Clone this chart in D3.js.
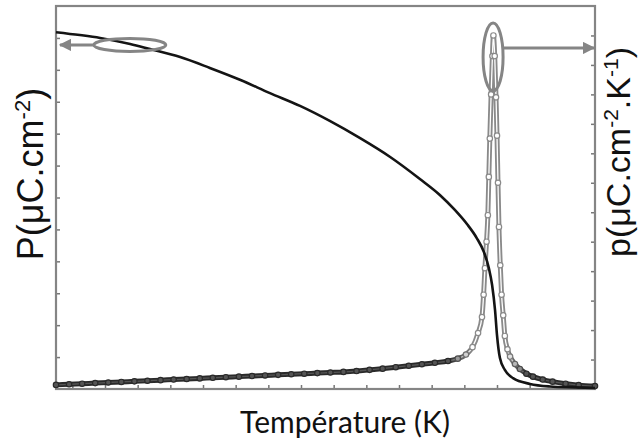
<!DOCTYPE html>
<html>
<head>
<meta charset="utf-8">
<script src="https://cdn.jsdelivr.net/npm/d3@7/dist/d3.min.js"></script>
<style>
  body { margin: 0; background: #fff; }
</style>
</head>
<body>
<svg id="chart" width="643" height="441"></svg>
<script>
/** Data **/
// Polarisation P (left axis), black line
var tempP = [280, 287.3, 293.5, 302.7, 308.8, 318, 327.1, 336.3, 345.5, 354.7, 363.8, 373.1,
             382.3, 391.4, 397.5, 402.1, 405.8, 408.8, 411, 412.5, 413.5, 414.4, 415, 415.9,
             417.4, 419.9, 425.1, 431.2, 438.9, 445];
var polP = [11.18, 11.09, 11.0, 10.81, 10.65, 10.4, 10.06, 9.69, 9.27, 8.87, 8.4, 7.86,
            7.27, 6.58, 6.08, 5.61, 5.17, 4.73, 4.29, 3.79, 3.26, 2.47, 1.69, 0.97,
            0.6, 0.34, 0.16, 0.08, 0.05, 0.03];

// Pyroelectric coefficient p (right axis), grey line with circles
var tempPyro = [280, 284, 288, 292, 296, 300, 304, 308, 312, 316, 320, 324, 328, 332, 336, 340,
                344, 348, 352, 356, 360, 364, 368, 372, 376, 380, 384, 388, 392, 396, 400, 403,
                405.5, 407.5, 409.2, 410.4, 410.9, 411.3, 411.8, 412.2, 412.5, 412.8, 413.2, 413.6,
                413.9, 414.3, 414.7, 415, 415.3, 415.6, 416, 416.4, 416.9, 417.4, 418.2, 419,
                420.5, 422, 424, 426, 429, 432, 436, 440, 445];
var pyroVals = [0.14, 0.16, 0.18, 0.2, 0.22, 0.24, 0.26, 0.28, 0.3, 0.32, 0.34, 0.36, 0.38, 0.4, 0.42, 0.44,
                0.46, 0.48, 0.5, 0.52, 0.54, 0.56, 0.58, 0.61, 0.65, 0.69, 0.74, 0.79, 0.84, 0.89, 0.95, 1.03,
                1.17, 1.42, 1.9, 2.44, 3.2, 4.1, 5.0, 5.9, 7.2, 8.5, 10.0, 11.3,
                12.0, 11.3, 9.9, 8.6, 7.0, 5.5, 4.2, 3.2, 2.5, 1.8, 1.35, 1.1,
                0.85, 0.68, 0.52, 0.42, 0.32, 0.25, 0.18, 0.13, 0.1];

// Tick positions (no labels on the original)
var xTicks = [285, 295, 305, 315, 325, 335, 345, 355, 365, 375, 385, 395, 405, 415, 425, 435];
var yTicksL = [1, 2, 3, 4, 5, 6, 7, 8, 9, 10, 11];
var yTicksR = [1, 2, 3, 4, 5, 6, 7, 8, 9, 10, 11, 12];

// Annotation ellipses: [temperature, value]
var ellLeft = [302.6, 10.78];
var ellRight = [413.8, 11.27];


function drawChart()
{
    var svg = d3.select("#chart");

    var m_left = 56, m_top = 6, m_right = 48, m_bottom = 52;
    var width = 643 - m_left - m_right;
    var height = 441 - m_top - m_bottom;

    var col_axis = '#858585';
    var col_P    = '#141414';

    var xScale = d3.scaleLinear().domain([280, 445]).range([0, width]);
    var yScaleL = d3.scaleLinear().domain([0, 12]).range([height, 0]);
    var yScaleR = d3.scaleLinear().domain([0, 13]).range([height, 0]);

    // Where the measured points pile up the trace looks dark, near the peak it is light grey
    var darkStops = [400, 407.5, 418, 424];
    var strokeCol = d3.scaleLinear().domain(darkStops).range(['#2a2a2a', '#8a8a8a', '#8a8a8a', '#2a2a2a']).clamp(true);
    var innerCol  = d3.scaleLinear().domain(darkStops).range(['#555', '#fff', '#fff', '#555']).clamp(true);

    var g = svg.append("g")
        .attr("transform", "translate(" + m_left + "," + m_top + ")");

    // Arrow head markers
    var defs = svg.append("defs");
    defs.append("marker")
        .attr("id", "arrowHead")
        .attr("viewBox", "0 0 10 10")
        .attr("refX", 9).attr("refY", 5)
        .attr("markerWidth", 4.2).attr("markerHeight", 4.2)
        .attr("markerUnits", "strokeWidth")
        .attr("orient", "auto")
        .append("path")
        .attr("d", "M0,0 L10,5 L0,10 Z")
        .style("fill", col_axis);

    function addGradient(id, colScale)
    {
        var grad = defs.append("linearGradient")
            .attr("id", id)
            .attr("gradientUnits", "userSpaceOnUse")
            .attr("x1", 0).attr("x2", width).attr("y1", 0).attr("y2", 0);
        darkStops.forEach(function(t) {
            grad.append("stop")
                .attr("offset", xScale(t) / width)
                .attr("stop-color", colScale(t));
        });
    }
    addGradient("pyroGrad", strokeCol);
    addGradient("pyroGradIn", innerCol);

    // Axes: inward ticks, no labels
    var xAxis = d3.axisBottom(xScale).tickValues(xTicks).tickSizeInner(-4).tickSizeOuter(0).tickFormat("");
    var yAxisL = d3.axisLeft(yScaleL).tickValues(yTicksL).tickSizeInner(-4).tickSizeOuter(0).tickFormat("");
    var yAxisR = d3.axisRight(yScaleR).tickValues(yTicksR).tickSizeInner(-4).tickSizeOuter(0).tickFormat("");

    g.append("g").attr("transform", "translate(0," + height + ")").call(xAxis);
    g.append("g").call(yAxisL);
    g.append("g").attr("transform", "translate(" + width + ",0)").call(yAxisR);

    g.selectAll(".domain").remove();
    g.selectAll(".tick line").style("stroke", "#777").style("stroke-width", 1.5);

    // Frame
    g.append("rect")
        .attr("x", 0).attr("y", 0)
        .attr("width", width).attr("height", height)
        .style("fill", "none")
        .style("stroke", col_axis)
        .style("stroke-width", 2.2);

    // Pyro curve
    var pyroData = tempPyro.map(function(t, i) { return {t: t, v: pyroVals[i]}; });
    var pyroLine = d3.line()
        .x(function(d) { return xScale(d.t); })
        .y(function(d) { return yScaleR(d.v); })
        .curve(d3.curveMonotoneX);

    g.append("path")
        .datum(pyroData)
        .attr("d", pyroLine)
        .style("fill", "none")
        .style("stroke", "url(#pyroGrad)")
        .style("stroke-width", 5);
    g.append("path")
        .datum(pyroData)
        .attr("d", pyroLine)
        .style("fill", "none")
        .style("stroke", "url(#pyroGradIn)")
        .style("stroke-width", 1.3);

    g.selectAll(".pyroDot")
        .data(pyroData)
        .enter()
        .append("circle")
        .attr("class", "pyroDot")
        .attr("cx", function(d) { return xScale(d.t); })
        .attr("cy", function(d) { return yScaleR(d.v); })
        .attr("r", 2.7)
        .style("fill", function(d) { return innerCol(d.t); })
        .style("stroke", function(d) { return strokeCol(d.t); })
        .style("stroke-width", 1.2);

    // P curve
    var pData = tempP.map(function(t, i) { return {t: t, v: polP[i]}; });
    var pLine = d3.line()
        .x(function(d) { return xScale(d.t); })
        .y(function(d) { return yScaleL(d.v); })
        .curve(d3.curveMonotoneX);

    g.append("path")
        .datum(pData)
        .attr("d", pLine)
        .style("fill", "none")
        .style("stroke", col_P)
        .style("stroke-width", 2.6);

    // Annotations: ellipses and arrows to the matching axis
    var lx = xScale(ellLeft[0]), ly = yScaleL(ellLeft[1]);
    g.append("ellipse")
        .attr("cx", lx).attr("cy", ly)
        .attr("rx", 36).attr("ry", 6.5)
        .style("fill", "none").style("stroke", col_axis).style("stroke-width", 3);
    g.append("line")
        .attr("x1", lx - 36).attr("y1", ly)
        .attr("x2", 4).attr("y2", ly)
        .style("stroke", col_axis).style("stroke-width", 3)
        .attr("marker-end", "url(#arrowHead)");

    var rx = xScale(ellRight[0]), ry = yScaleR(ellRight[1]);
    g.append("ellipse")
        .attr("cx", rx).attr("cy", ry)
        .attr("rx", 10).attr("ry", 34)
        .style("fill", "none").style("stroke", col_axis).style("stroke-width", 3);
    g.append("line")
        .attr("x1", rx + 10).attr("y1", ry - 9)
        .attr("x2", width - 1).attr("y2", ry - 9)
        .style("stroke", col_axis).style("stroke-width", 3)
        .attr("marker-end", "url(#arrowHead)");

    // Axis titles
    var tL = svg.append("text")
        .attr("transform", "translate(43,174) rotate(-90)")
        .attr("text-anchor", "middle")
        .style("font-family", "'Liberation Sans', Arial, sans-serif")
        .style("font-size", "36px")
        .style("fill", "#111");
    tL.append("tspan").text("P(μC.cm");
    tL.append("tspan").attr("dy", -13).style("font-size", "22px").text("-2");
    tL.append("tspan").attr("dy", 13).text(")");

    var tR = svg.append("text")
        .attr("transform", "translate(630,152) rotate(-90)")
        .attr("text-anchor", "middle")
        .style("font-family", "'Liberation Sans', Arial, sans-serif")
        .style("font-size", "34px")
        .style("fill", "#111");
    tR.append("tspan").text("p(μC.cm");
    tR.append("tspan").attr("dy", -12).style("font-size", "21px").text("-2");
    tR.append("tspan").attr("dy", 12).text(".K");
    tR.append("tspan").attr("dy", -12).style("font-size", "21px").text("-1");
    tR.append("tspan").attr("dy", 12).text(")");

    svg.append("text")
        .attr("x", 345).attr("y", 433)
        .attr("text-anchor", "middle")
        .style("font-family", "Lato, 'Open Sans', sans-serif")
        .style("font-size", "30px")
        .style("fill", "#111")
        .text("Température (K)");
}

drawChart();
</script>
</body>
</html>
